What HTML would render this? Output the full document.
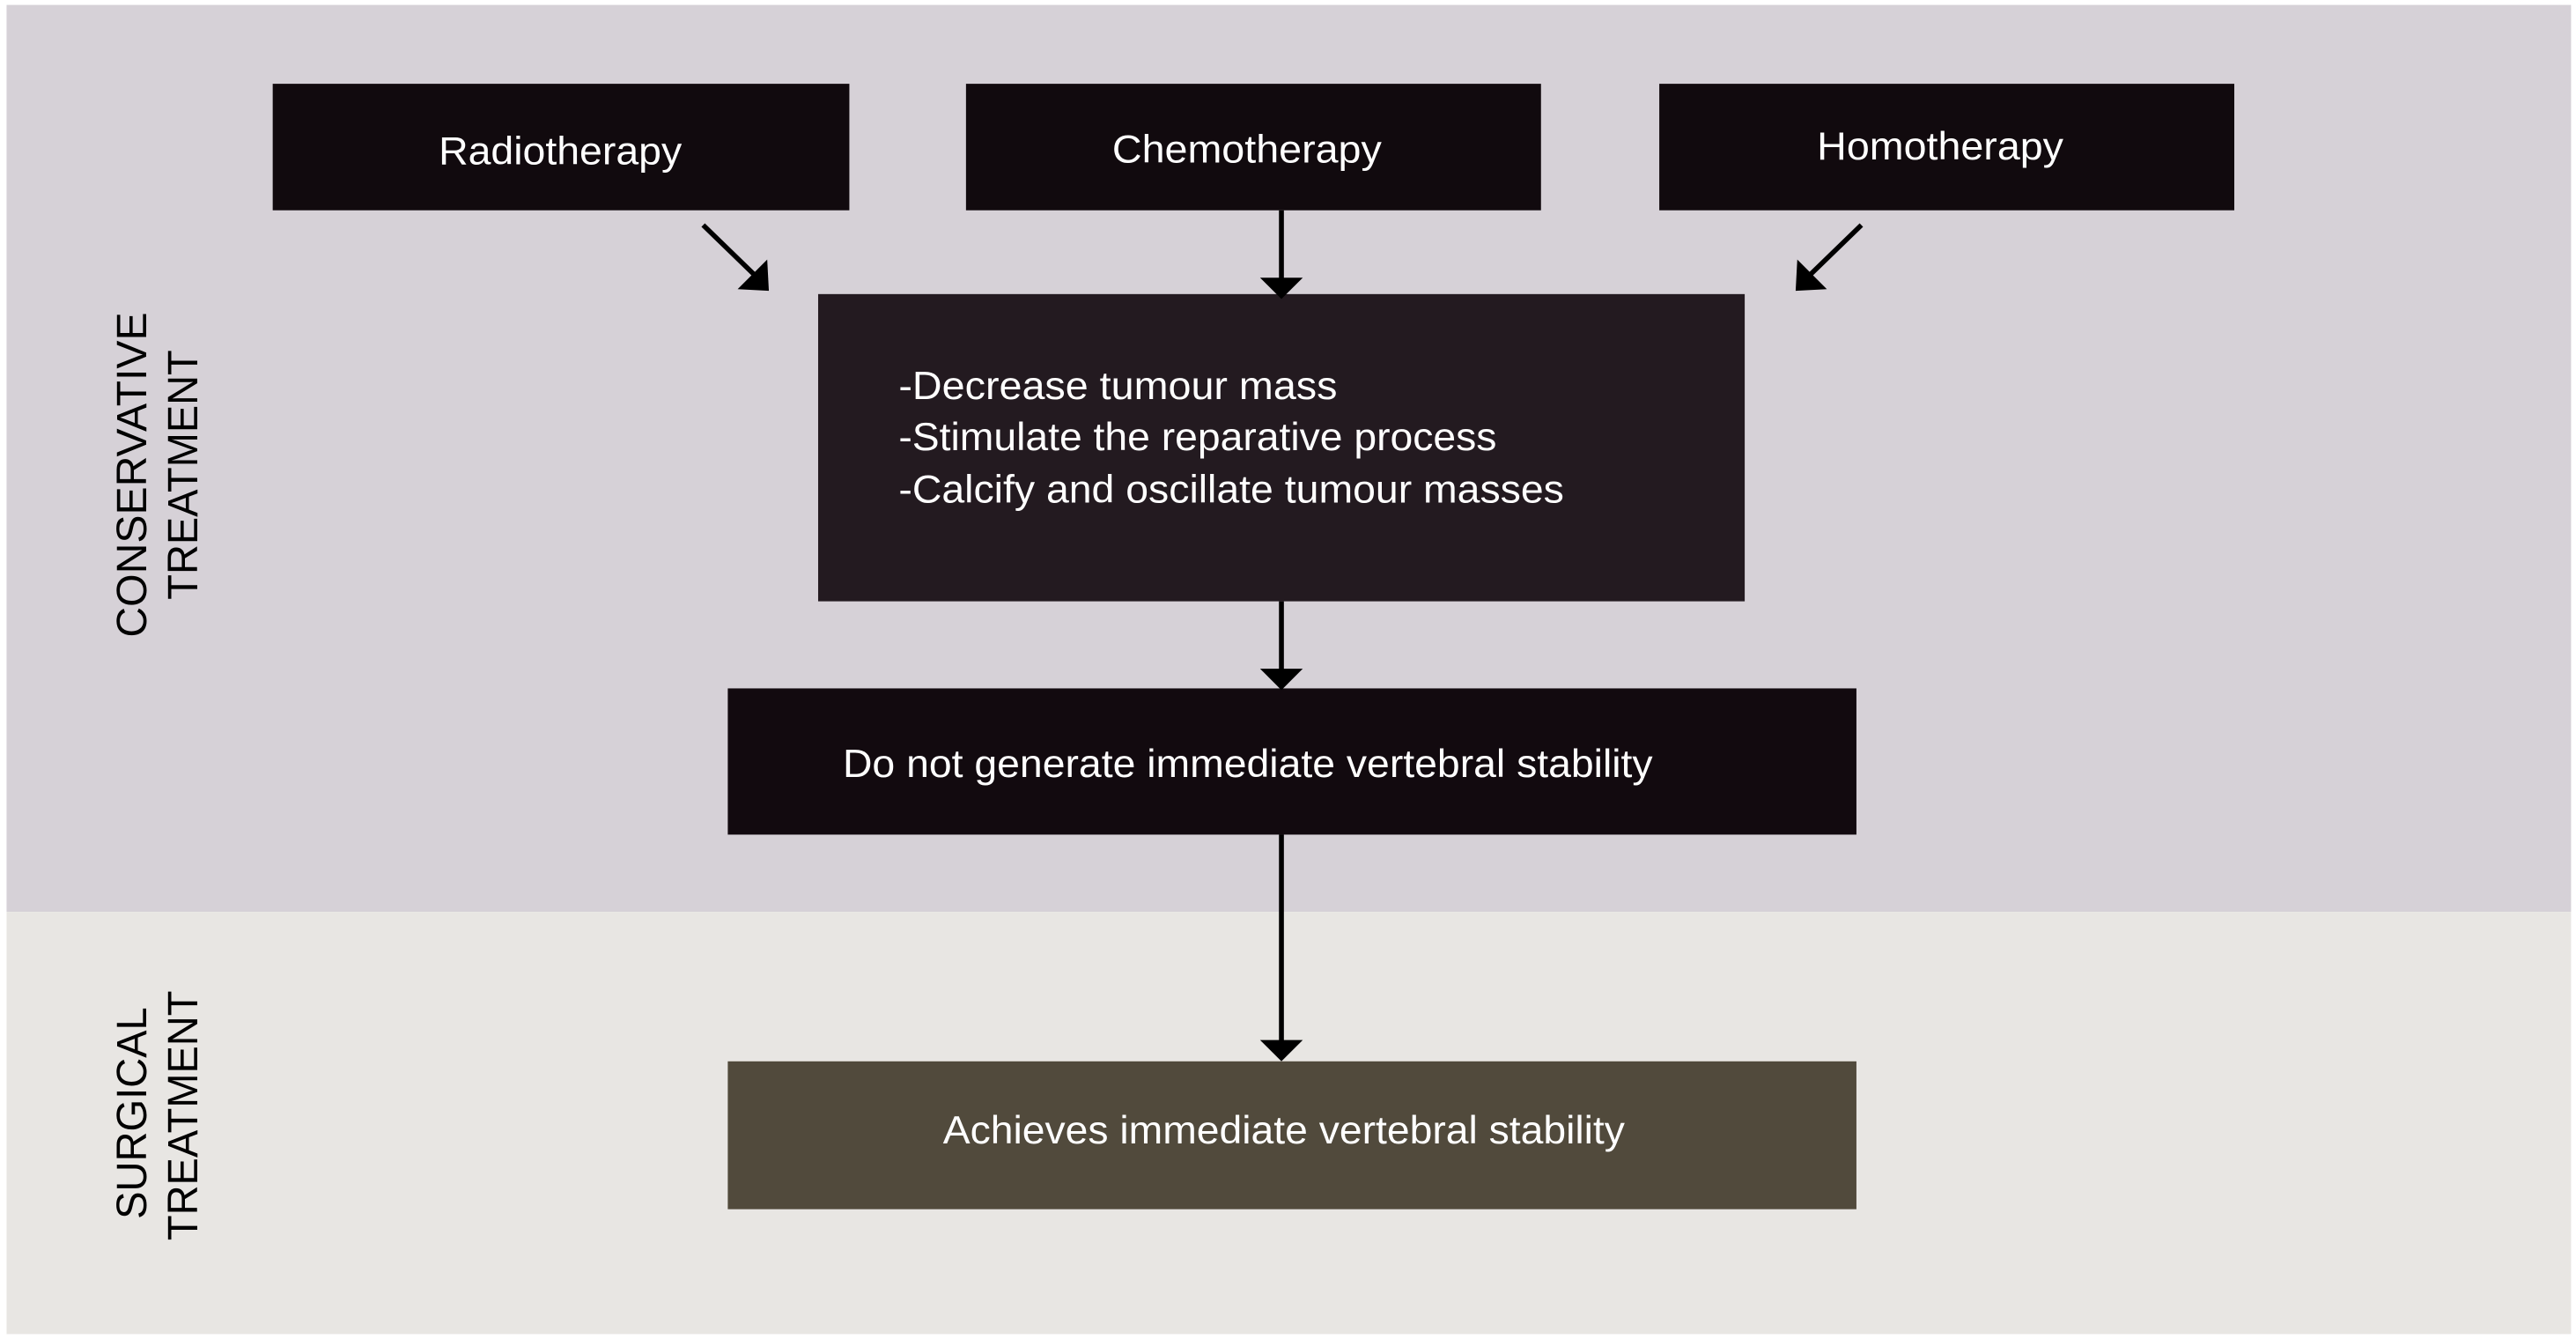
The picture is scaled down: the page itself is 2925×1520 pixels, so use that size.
<!DOCTYPE html>
<html><head><style>html,body{margin:0;padding:0;background:#fff}svg{display:block}</style></head>
<body>
<svg width="2925" height="1520" viewBox="0 0 1568 815" preserveAspectRatio="none" xmlns="http://www.w3.org/2000/svg" font-family="Liberation Sans, Arial, sans-serif">
<rect x="0" y="0" width="1568" height="815" fill="#ffffff"/>
<rect x="4" y="3" width="1561" height="552" fill="#d6d1d7"/>
<rect x="4" y="555" width="1561" height="257" fill="#e8e6e3"/>
<g fill="#110a0e">
<rect x="166" y="51" width="351" height="77"/>
<rect x="588" y="51" width="350" height="77"/>
<rect x="1010" y="51" width="350" height="77"/>
</g>
<rect x="498" y="179" width="564" height="187" fill="#231a20"/>
<rect x="443" y="419" width="687" height="89" fill="#120a0f"/>
<rect x="443" y="646" width="687" height="90" fill="#514a3c"/>
<g stroke="#000" stroke-width="3" fill="none">
<line x1="780" y1="128" x2="780" y2="170"/>
<line x1="780" y1="366" x2="780" y2="410"/>
<line x1="780" y1="508" x2="780" y2="636"/>
<line x1="428" y1="137" x2="460" y2="168"/>
<line x1="1133" y1="137" x2="1101" y2="168"/>
</g>
<g fill="#000">
<polygon points="767,169 793,169 780,182"/>
<polygon points="767,407 793,407 780,420"/>
<polygon points="767,633 793,633 780,646"/>
<polygon points="468,177 467,158 449,176"/>
<polygon points="1093,177 1094,158 1112,176"/>
</g>
<g fill="#fff" font-size="24">
<text x="341" y="100" text-anchor="middle" textLength="148" lengthAdjust="spacingAndGlyphs">Radiotherapy</text>
<text x="759" y="99" text-anchor="middle" textLength="164" lengthAdjust="spacingAndGlyphs">Chemotherapy</text>
<text x="1181" y="97" text-anchor="middle" textLength="150" lengthAdjust="spacingAndGlyphs">Homotherapy</text>
<text x="547" y="243" textLength="267" lengthAdjust="spacingAndGlyphs">-Decrease tumour mass</text>
<text x="547" y="274" textLength="364" lengthAdjust="spacingAndGlyphs">-Stimulate the reparative process</text>
<text x="547" y="306" textLength="405" lengthAdjust="spacingAndGlyphs">-Calcify and oscillate tumour masses</text>
<text x="513" y="473" textLength="493" lengthAdjust="spacingAndGlyphs">Do not generate immediate vertebral stability</text>
<text x="574" y="696" textLength="415" lengthAdjust="spacingAndGlyphs">Achieves immediate vertebral stability</text>
</g>
<g fill="#000" font-size="26">
<text transform="translate(89,388) rotate(-90)" textLength="198" lengthAdjust="spacingAndGlyphs">CONSERVATIVE</text>
<text transform="translate(120,365) rotate(-90)" textLength="152" lengthAdjust="spacingAndGlyphs">TREATMENT</text>
<text transform="translate(89,742) rotate(-90)" textLength="129" lengthAdjust="spacingAndGlyphs">SURGICAL</text>
<text transform="translate(120,755) rotate(-90)" textLength="152" lengthAdjust="spacingAndGlyphs">TREATMENT</text>
</g>
</svg>
</body></html>
